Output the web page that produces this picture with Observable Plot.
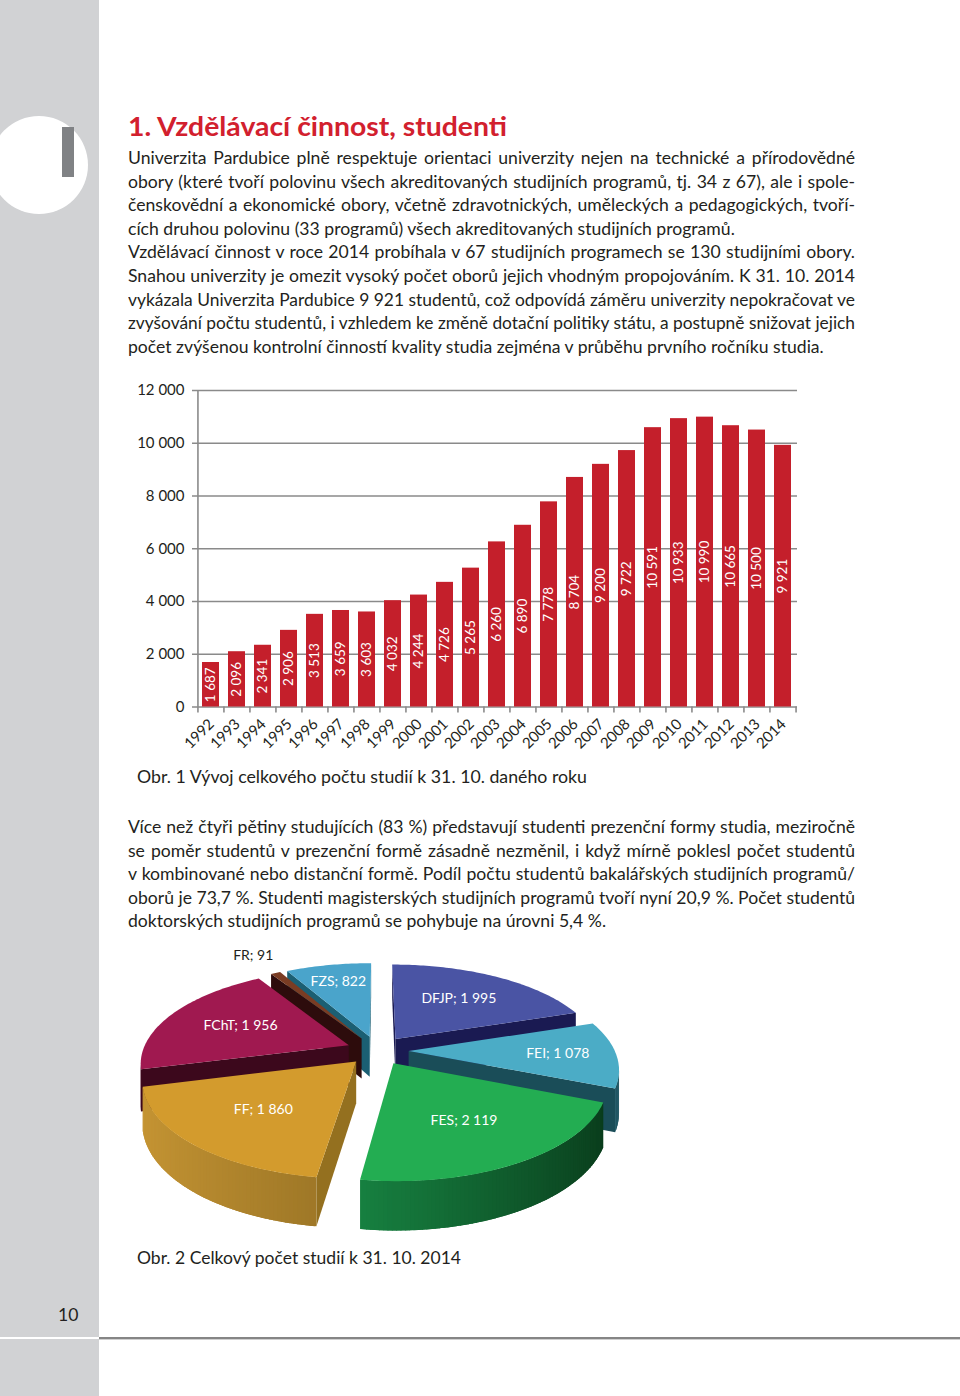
<!DOCTYPE html>
<html><head><meta charset="utf-8">
<script src="https://cdn.jsdelivr.net/npm/d3@7"></script>
<script src="https://cdn.jsdelivr.net/npm/@observablehq/plot@0.6"></script>
<style>
html,body{margin:0;padding:0;background:#fff;}
#page{position:relative;width:960px;height:1396px;overflow:hidden;font-family:Lato,"Open Sans",sans-serif;color:#231f20;background:#fff;}
#side{position:absolute;left:0;top:0;width:99px;height:1396px;background:#d1d2d4;}
#circle{position:absolute;left:-10px;top:116px;width:98px;height:98px;border-radius:50%;background:#fff;}
#bigI{position:absolute;left:62px;top:127px;width:12px;height:50px;background:#808285;}
#sideBreak{position:absolute;left:0;top:1337px;width:99px;height:2px;background:#fff;}
#bottomLine{position:absolute;left:99px;top:1337px;width:861px;height:2px;background:#858585;}
#bottomLine2{position:absolute;left:99px;top:1339px;width:861px;height:1px;background:#d0d0d0;}
.line{position:absolute;height:24px;line-height:24px;white-space:nowrap;font-size:17.6px;}
.line span{display:inline-block;white-space:pre;transform-origin:0 50%;}
#title{position:absolute;left:128px;top:109px;height:34px;line-height:34px;font-size:27px;font-weight:700;color:#d2202e;white-space:nowrap;}
#title span{display:inline-block;transform-origin:0 50%;}
#pagenum{position:absolute;left:58px;top:1303px;font-size:17.6px;line-height:24px;color:#231f20;}
.chart{position:absolute;}
</style>
</head>
<body>
<div id="page">
  <div id="side"></div>
  <div id="circle"></div>
  <div id="bigI"></div>
  <div id="sideBreak"></div>
  <div id="bottomLine"></div>
  <div id="bottomLine2"></div>
  <div id="title"><span>1. Vzdělávací činnost, studenti</span></div>
  <div id="pagenum">10</div>
  <div id="bars" class="chart" style="left:130px;top:375px;"></div>
  <div id="pie" class="chart" style="left:110px;top:930px;"></div>
</div>
<script>
// ---------- data: bar chart ----------
const years = ["1992","1993","1994","1995","1996","1997","1998","1999","2000","2001","2002","2003","2004","2005","2006","2007","2008","2009","2010","2011","2012","2013","2014"];
const students = [1687,2096,2341,2906,3513,3659,3603,4032,4244,4726,5265,6260,6890,7778,8704,9200,9722,10591,10933,10990,10665,10500,9921];
const yTicks = [0,2000,4000,6000,8000,10000,12000];

// ---------- data: pie chart ----------
const faculties = ["DFJP","FEI","FES","FF","FChT","FR","FZS"];
const facultyCounts = [1995,1078,2119,1860,1956,91,822];
const topColors = ["#4a54a4","#4bacc6","#23ad52","#d39b2d","#a01950","#7a3c23","#4aa4cb"];
const wallDark  = ["#161645","#1c5360","#09391a","#6a5016","#2a0514","#2a0a08","#14566e"];
const wallLight = ["#2a2f7a","#4aa0b5","#21b65d","#c79634","#4a0b24","#4a1d0e","#2a7090"];
const cutColors = ["#1a1a52","#1a4d58","#0c4520","#94701f","#3c081c","#2d0c0c","#1b5f73"];

// ---------- text ----------
const para1 = [
 "Univerzita Pardubice plně respektuje orientaci univerzity nejen na technické a přírodovědné",
 "obory (které tvoří polovinu všech akreditovaných studijních programů, tj. 34 z 67), ale i spole-",
 "čenskovědní a ekonomické obory, včetně zdravotnických, uměleckých a pedagogických, tvoří-",
 "cích druhou polovinu (33 programů) všech akreditovaných studijních programů.",
 "Vzdělávací činnost v roce 2014 probíhala v 67 studijních programech se 130 studijními obory.",
 "Snahou univerzity je omezit vysoký počet oborů jejich vhodným propojováním. K 31. 10. 2014",
 "vykázala Univerzita Pardubice 9 921 studentů, což odpovídá záměru univerzity nepokračovat ve",
 "zvyšování počtu studentů, i vzhledem ke změně dotační politiky státu, a postupně snižovat jejich",
 "počet zvýšenou kontrolní činností kvality studia zejména v průběhu prvního ročníku studia."
];
const para1Justify = [1,1,1,0,1,1,1,1,0];
const para2 = [
 "Více než čtyři pětiny studujících (83 %) představují studenti prezenční formy studia, meziročně",
 "se poměr studentů v prezenční formě zásadně nezměnil, i když mírně poklesl počet studentů",
 "v kombinované nebo distanční formě. Podíl počtu studentů bakalářských studijních programů/",
 "oborů je 73,7 %. Studenti magisterských studijních programů tvoří nyní 20,9 %. Počet studentů",
 "doktorských studijních programů se pohybuje na úrovni 5,4 %."
];
const para2Justify = [1,1,1,1,0];
const caption1 = "Obr. 1 Vývoj celkového počtu studií k 31. 10. daného roku";
const caption2 = "Obr. 2 Celkový počet studií k 31. 10. 2014";

const page = document.getElementById("page");
const lineEls = [];
// mode: 0 = natural (shrink if too wide), 1 = justify, 2 = fit exactly
function addLine(text, cy, left, target, mode){
  const d = document.createElement("div");
  d.className = "line";
  d.style.left = left + "px";
  d.style.top = (cy - 12) + "px";
  const s = document.createElement("span");
  s.textContent = text;
  d.appendChild(s);
  page.appendChild(d);
  lineEls.push({s, target, mode});
}
para1.forEach((t,i)=>addLine(t, 158 + 23.6*i, 128, 727, para1Justify[i]));
para2.forEach((t,i)=>addLine(t, 827 + 23.6*i, 128, 727, para2Justify[i]));
addLine(caption1, 777, 137, 450, 2);
addLine(caption2, 1258, 137, 324, 2);

function fit(){
  for(const {s,target,mode} of lineEls){
    s.style.transform=""; s.style.wordSpacing="";
    const w = s.getBoundingClientRect().width;
    if(mode === 2 || w > target) s.style.transform = `scaleX(${target/w})`;
    else if(mode === 1){
      const n = (s.textContent.match(/ /g)||[]).length;
      if(n) s.style.wordSpacing = ((target - w)/n) + "px";
    }
  }
  const ts = document.querySelector("#title span");
  ts.style.transform="";
  const tw = ts.getBoundingClientRect().width;
  ts.style.transform = `scaleX(${379/tw})`;
}
fit();
if(document.fonts && document.fonts.ready) document.fonts.ready.then(fit);

// ---------- bar chart ----------
const fmt = d3.formatLocale({decimal:",", thousands:" ", grouping:[3], currency:["",""]}).format(",d");
const barData = years.map((y,i)=>({year:y, value:students[i]}));
const padIn = 0.34, padOut = 0.153;
const plotW = 600;
const step = plotW/(years.length - padIn + 2*padOut);
const barChart = Plot.plot({
  width: 680, height: 380,
  marginLeft: 67, marginRight: 13, marginTop: 15, marginBottom: 48.5,
  style: {fontFamily: "Lato, 'Open Sans', sans-serif", fontSize: "15px", color: "#231f20", background: "transparent", overflow: "visible"},
  x: {type: "band", domain: years, paddingInner: padIn, paddingOuter: padOut, axis: null},
  y: {domain: [0, 12000], axis: null},
  marks: [
    Plot.ruleY(yTicks, {stroke: "#8a8a8a", strokeWidth: 1.6, insetLeft: -5}),
    Plot.barY(barData, {x: "year", y: "value", fill: "#c41f2b"}),
    Plot.ruleX(years, {x: d=>d, y1: -230, y2: d => d === years[0] ? 12000 : 0, dx: -step/2, stroke: "#8a8a8a", strokeWidth: 1.6}),
    Plot.ruleX([years[years.length-1]], {x: d=>d, y1: -230, y2: 0, dx: step/2, stroke: "#8a8a8a", strokeWidth: 1.6}),
    Plot.text(yTicks, {y: d=>d, text: d=>fmt(d), frameAnchor: "left", textAnchor: "end", dx: -13, fill: "#231f20"}),
    Plot.text(barData, {x: "year", text: "year", frameAnchor: "bottom", rotate: -45, textAnchor: "end", dy: 18, dx: 4, fill: "#231f20"}),
    Plot.text(barData, {x: "year", y: d=>d.value/2, text: d=>fmt(d.value), rotate: -90, fill: "white", fontSize: 13.5})
  ]
});
document.getElementById("bars").appendChild(barChart);

// ---------- 3D pie chart ----------
const E = 0.151, K = 0.18, H = 0.427;
const proj = (u, v, z) => { const s = 1 + K*v; return [u*s, v*s + z*H*s]; };
const total = d3.sum(facultyCounts);
let acc = 0;
const slices = faculties.map((name, i) => {
  const a0 = acc/total*2*Math.PI; acc += facultyCounts[i];
  const a1 = acc/total*2*Math.PI; const m = (a0 + a1)/2;
  return {i, name, a0, a1, m, ex: E*Math.sin(m), ey: -E*Math.cos(m)};
});
const pt = (sl, a, r, z) => proj(sl.ex + r*Math.sin(a), sl.ey - r*Math.cos(a), z);
const area = pts => { let s = 0; for(let j=0;j<pts.length;j++){ const p=pts[j], q=pts[(j+1)%pts.length]; s += p[0]*q[1] - q[0]*p[1]; } return s; };
const sides = [];
const tops = [];
const STEP = Math.PI/180;
for(const sl of slices){
  const n = Math.max(2, Math.ceil((sl.a1 - sl.a0)/STEP));
  const da = (sl.a1 - sl.a0)/n;
  const shade = d3.interpolateRgb(wallDark[sl.i], wallLight[sl.i]);
  const wall = [];
  for(let j=0;j<n;j++){
    const t0 = sl.a0 + da*j, t1 = sl.a0 + da*(j+1);
    const q = [pt(sl,t0,1,0), pt(sl,t1,1,0), pt(sl,t1,1,1), pt(sl,t0,1,1)];
    if(area(q) < 0){
      // slightly widened strip so neighbouring strips overlap (no seams)
      const e0 = Math.max(sl.a0, t0 - da*0.6), e1 = Math.min(sl.a1, t1 + da*0.6);
      const qq = [pt(sl,e0,1,0), pt(sl,e1,1,0), pt(sl,e1,1,1), pt(sl,e0,1,1)];
      const tm = (t0+t1)/2;
      sides.push({pts: qq, c: shade((1 - Math.sin(tm))/2), key: sl.ey - Math.cos(tm), stroke: false});
    }
  }
  const ap0 = proj(sl.ex, sl.ey, 0), ap1 = proj(sl.ex, sl.ey, 1);
  const c1 = [pt(sl,sl.a1,1,0), ap0, ap1, pt(sl,sl.a1,1,1)];
  if(area(c1) < 0) sides.push({pts: c1, c: cutColors[sl.i], key: sl.ey - 0.5*Math.cos(sl.a1)});
  const c0 = [ap0, pt(sl,sl.a0,1,0), pt(sl,sl.a0,1,1), ap1];
  if(area(c0) < 0) sides.push({pts: c0, c: cutColors[sl.i], key: sl.ey - 0.5*Math.cos(sl.a0)});
  const tp = [ap0];
  const m = Math.max(8, Math.ceil((sl.a1 - sl.a0)/STEP));
  for(let j=0;j<=m;j++) tp.push(pt(sl, sl.a0 + (sl.a1 - sl.a0)*j/m, 1, 0));
  tops.push({pts: tp, c: topColors[sl.i]});
}
sides.sort((a,b)=>a.key - b.key);
const polys = sides.concat(tops);
const polyRows = [];
polys.forEach((p, id) => p.pts.forEach(([X, Y]) => polyRows.push({id, X, Y, c: p.c})));

const labelR = {FEI: 0.72, FZS: 0.72, FR: 1.35};
const labelRows = slices.map(sl => {
  const r = labelR[sl.name] ?? 0.6;
  const [X, Y] = pt(sl, sl.m, r, 0);
  return {X, Y, t: sl.name + "; " + fmt(facultyCounts[sl.i]), c: sl.name === "FR" ? "#231f20" : "#ffffff"};
});

const CX = 267, CY = 120, RX = 206, RY = 96;
const pieChart = Plot.plot({
  width: 600, height: 320,
  style: {fontFamily: "Lato, 'Open Sans', sans-serif", background: "transparent", overflow: "visible"},
  x: {domain: [-2, 2], range: [CX - 2*RX, CX + 2*RX], axis: null},
  y: {domain: [-2, 2], range: [CY - 2*RY, CY + 2*RY], axis: null},
  color: {type: "identity"},
  marks: [
    Plot.line(polyRows, {x: "X", y: "Y", z: "id", fill: "c", stroke: "none", curve: "linear-closed"}),
    Plot.text(labelRows, {x: "X", y: "Y", text: "t", fill: "c", fontSize: 14})
  ]
});
document.getElementById("pie").appendChild(pieChart);
</script>
</body></html>
